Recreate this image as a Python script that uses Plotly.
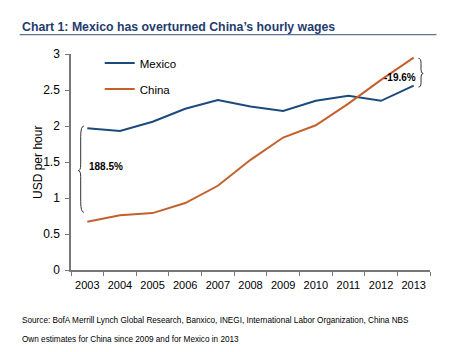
import plotly.graph_objects as go

years = [str(y) for y in range(2003, 2014)]
mexico = [1.97, 1.93, 2.06, 2.24, 2.36, 2.27, 2.21, 2.35, 2.42, 2.35, 2.56]
china = [0.67, 0.76, 0.79, 0.93, 1.17, 1.53, 1.84, 2.01, 2.31, 2.64, 2.95]
y_ticks = [0, 0.5, 1, 1.5, 2, 2.5, 3]
y_labels = ["0", "0.5", "1", "1.5", "2", "2.5", "3"]

FONT = "Liberation Sans, Arial, sans-serif"
fig = go.Figure()
fig.add_trace(go.Scatter(x=years, y=mexico, name="Mexico", mode="lines", legendgroup="m",
                         line=dict(color="#1B4A7C", width=2)))
fig.add_trace(go.Scatter(x=years, y=china, name="China", mode="lines", legendgroup="c",
                         line=dict(color="#C3602C", width=2)))

fig.update_layout(
    width=450, height=352,
    margin=dict(l=71, r=20, t=54, b=82),
    paper_bgcolor="white", plot_bgcolor="white",
    font=dict(family=FONT, size=12, color="#000"),
    showlegend=True,
    legend=dict(x=0.08, y=1.025, xanchor="left", yanchor="top",
                bgcolor="rgba(0,0,0,0)", font=dict(size=11.5),
                tracegroupgap=7, itemwidth=30),
    xaxis=dict(type="category", range=[-0.5, 10.5], tickson="boundaries", ticks="outside", ticklen=4,
               tickcolor="#777", showline=True, linecolor="#777", linewidth=1.5,
               showgrid=False, tickangle=0, tickfont=dict(size=11), ticklabelstandoff=4),
    yaxis=dict(range=[0, 3], tickvals=y_ticks, ticktext=y_labels, ticks="outside",
               ticklen=4, tickcolor="#777", showline=True, linecolor="#777",
               linewidth=1.5, showgrid=False, zeroline=False,
               tickfont=dict(size=12), ticklabelstandoff=3),
)

# y-axis title
fig.add_annotation(xref="paper", yref="paper", x=-0.092, y=0.5, xanchor="center", yanchor="middle",
                   text="USD per hour", textangle=-90, showarrow=False, font=dict(size=12))

# title and underline
fig.add_annotation(xref="paper", yref="paper", x=-0.143, y=1.125, xanchor="left", yanchor="middle",
                   text="<b>Chart 1: Mexico has overturned China’s hourly wages</b>",
                   showarrow=False, font=dict(size=12.3, color="#1F3C6E"))
fig.add_shape(type="line", xref="paper", yref="paper", x0=-0.143, x1=1.018, y0=1.09, y1=1.09,
              line=dict(color="#5A7494", width=1.2))

# braces
fig.add_shape(type="path", xref="paper", yref="y",
              path="M 0.036 2.0 Q 0.027 2.0 0.027 1.85 L 0.027 1.46 Q 0.027 1.38 0.020 1.38 "
                   "Q 0.027 1.38 0.027 1.30 L 0.027 0.95 Q 0.027 0.80 0.036 0.80",
              line=dict(color="#333", width=1))
fig.add_annotation(xref="paper", yref="y", x=0.044, y=1.44, xanchor="left",
                   text="<b>188.5%</b>", showarrow=False, font=dict(size=10))
fig.add_shape(type="path", xref="paper", yref="y",
              path="M 0.968 2.94 Q 0.975 2.94 0.975 2.87 L 0.975 2.78 Q 0.975 2.73 0.981 2.73 "
                   "Q 0.975 2.73 0.975 2.68 L 0.975 2.60 Q 0.975 2.54 0.968 2.54",
              line=dict(color="#333", width=1))
fig.add_annotation(xref="paper", yref="y", x=0.967, y=2.67, xanchor="right",
                   text="<b>-19.6%</b>", showarrow=False, font=dict(size=10))

# source
fig.add_annotation(xref="paper", yref="paper", x=-0.143, y=-0.236, xanchor="left", yanchor="middle",
                   text="Source: BofA Merrill Lynch Global Research, Banxico, INEGI, International Labor Organization, China NBS",
                   showarrow=False, font=dict(size=8.2))
fig.add_annotation(xref="paper", yref="paper", x=-0.143, y=-0.324, xanchor="left", yanchor="middle",
                   text="Own estimates for China since 2009 and for Mexico in 2013",
                   showarrow=False, font=dict(size=8.2))

fig.write_html("out.html")
